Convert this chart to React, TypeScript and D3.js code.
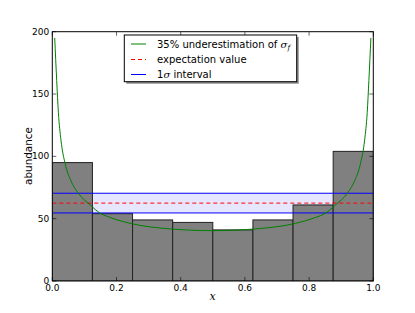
import React from "react";
import * as d3 from "d3";

const binEdges = [0, 0.125, 0.25, 0.375, 0.5, 0.625, 0.75, 0.875, 1.0];
const counts = [95, 54, 49, 47, 41, 49, 61, 104];
const expectation = 62.5;
const sigmaLow = 54.6;
const sigmaHigh = 70.4;
const curveX = [0.0075, 0.0137, 0.019, 0.027, 0.0396, 0.057, 0.081, 0.118, 0.149, 0.18, 0.242, 0.367, 0.5, 0.633, 0.758, 0.82, 0.851, 0.882, 0.919, 0.943, 0.9604, 0.973, 0.981, 0.9863, 0.9925];
const curveY = [195, 161, 135, 113, 94.5, 81, 70.4, 61, 54.4, 51, 46.3, 41.8, 40.4, 41.8, 46.3, 51, 54.4, 61, 70.4, 81, 94.5, 113, 135, 161, 195];
const xTicks = [0, 0.2, 0.4, 0.6, 0.8, 1.0];
const yTicks = [0, 50, 100, 150, 200];

const W = 415, H = 313;
const L = 52.3, R = 373.3, T = 31.7, B = 281;
const FONT = "DejaVu Sans";

export default function App() {
  const x = d3.scaleLinear().domain([0, 1]).range([L, R]);
  const y = d3.scaleLinear().domain([0, 200]).range([B, T]);
  const line = d3
    .line<number>()
    .x((_, i) => x(curveX[i]))
    .y((d) => y(d))
    .curve(d3.curveMonotoneX);
  const tl = 4;
  return (
    <svg width={W} height={H} style={{ position: "absolute", left: 0, top: 0, background: "#fff" }} fontFamily={FONT}>
      <rect x={0} y={0} width={W} height={H} fill="#fff" />
      <defs>
        <clipPath id="plot">
          <rect x={L} y={T} width={R - L} height={B - T} />
        </clipPath>
      </defs>
      <g clipPath="url(#plot)">
        <rect x={L} y={y(sigmaHigh)} width={R - L} height={y(sigmaLow) - y(sigmaHigh)} fill="#e6e6ff" />
        {counts.map((c, i) => (
          <rect
            key={i}
            x={x(binEdges[i])}
            y={y(c)}
            width={x(binEdges[i + 1]) - x(binEdges[i])}
            height={B - y(c)}
            fill="#808080"
            stroke="#222"
            strokeWidth={1}
          />
        ))}
        <line x1={L} x2={R} y1={y(sigmaHigh)} y2={y(sigmaHigh)} stroke="#0000ff" strokeWidth={1} />
        <line x1={L} x2={R} y1={y(sigmaLow)} y2={y(sigmaLow)} stroke="#0000ff" strokeWidth={1} />
        <line x1={L} x2={R} y1={y(expectation)} y2={y(expectation)} stroke="#ff0000" strokeWidth={1} strokeDasharray="4,3" />
        <path d={line(curveY) || ""} fill="none" stroke="#008000" strokeWidth={1} />
      </g>
      {/* ticks */}
      {xTicks.map((t) => (
        <g key={"xt" + t}>
          <line x1={x(t)} x2={x(t)} y1={B} y2={B - tl} stroke="#000" strokeWidth={0.6} />
          <line x1={x(t)} x2={x(t)} y1={T} y2={T + tl} stroke="#000" strokeWidth={0.6} />
          <text x={x(t)} y={B + 10} fontSize={9} textAnchor="middle" fill="#000">
            {t.toFixed(1)}
          </text>
        </g>
      ))}
      {yTicks.map((t) => (
        <g key={"yt" + t}>
          <line x1={L} x2={L + tl} y1={y(t)} y2={y(t)} stroke="#000" strokeWidth={0.6} />
          <line x1={R} x2={R - tl} y1={y(t)} y2={y(t)} stroke="#000" strokeWidth={0.6} />
          <text x={L - 3} y={y(t) + 3} fontSize={9} textAnchor="end" fill="#000">
            {t}
          </text>
        </g>
      ))}
      <rect x={L} y={T} width={R - L} height={B - T} fill="none" stroke="#000" strokeWidth={1} />
      <text x={212.5} y={300} fontSize={11} fontStyle="italic" fontFamily="DejaVu Serif" textAnchor="middle">
        x
      </text>
      <text transform={`translate(32,156) rotate(-90)`} fontSize={10.4} textAnchor="middle">
        abundance
      </text>
      {/* legend */}
      <rect x={126.3} y={37} width={172.4} height={46.7} fill="#888" />
      <rect x={124.3} y={35} width={172.4} height={46.7} fill="#fff" stroke="#000" strokeWidth={1} />
      <line x1={131} x2={146} y1={44} y2={44} stroke="#008000" strokeWidth={1} />
      <line x1={131} x2={146} y1={59.5} y2={59.5} stroke="#ff0000" strokeWidth={1} strokeDasharray="4,3" />
      <line x1={131} x2={146} y1={74.5} y2={74.5} stroke="#0000ff" strokeWidth={1} />
      <text x={157} y={47.5} fontSize={10}>
        35% underestimation of{" "}
        <tspan fontStyle="italic" fontFamily="DejaVu Serif">σ</tspan>
        <tspan fontStyle="italic" fontFamily="DejaVu Serif" fontSize={7} dy={2.5}>f</tspan>
      </text>
      <text x={157} y={63} fontSize={10}>
        expectation value
      </text>
      <text x={157} y={78} fontSize={10}>
        1<tspan fontStyle="italic" fontFamily="DejaVu Serif">σ</tspan> interval
      </text>
    </svg>
  );
}
